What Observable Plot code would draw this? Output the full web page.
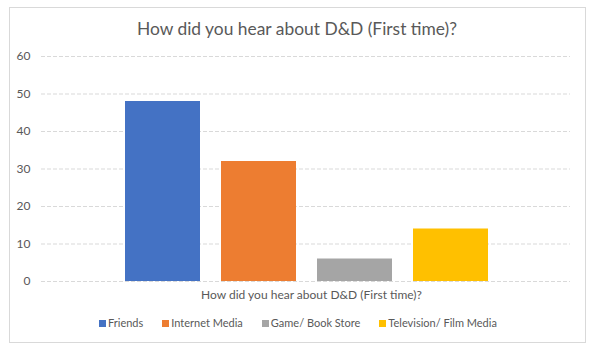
<!DOCTYPE html>
<html>
<head>
<meta charset="utf-8">
<script src="https://cdn.jsdelivr.net/npm/d3@7"></script>
<script src="https://cdn.jsdelivr.net/npm/@observablehq/plot@0.6"></script>
<style>
  html, body { margin: 0; padding: 0; background: #fff; }
  body { width: 608px; height: 356px; position: relative; overflow: hidden; font-family: Lato, "Noto Sans", sans-serif; color: #595959; }
  #frame { position: absolute; left: 9px; top: 7px; width: 575px; height: 334px; border: 1px solid #d9d9d9; }
  #title { position: absolute; left: 0; width: 594px; top: 18px; text-align: center; font-size: 17.4px; line-height: 22px; color: #595959; white-space: nowrap; }
  #chart { position: absolute; left: 0; top: 0; }
  #xlabel { position: absolute; left: 0; width: 623px; top: 288px; text-align: center; font-size: 12px; line-height: 14px; color: #595959; white-space: nowrap; }
  #legend { position: absolute; left: 99px; top: 316px; display: flex; align-items: center; font-size: 11px; line-height: 14px; color: #595959; white-space: nowrap; }
  .item { display: flex; align-items: center; margin-right: 19px; }
  .sw { width: 7px; height: 7px; margin-right: 2px; }
</style>
</head>
<body>
<div id="frame"></div>
<div id="title"></div>
<div id="chart"></div>
<div id="xlabel"></div>
<div id="legend"></div>
<script>
const titleText = "How did you hear about D&D (First time)?";
const xAxisLabel = "How did you hear about D&D (First time)?";
const categories = ["Friends", "Internet Media", "Game/ Book Store", "Television/ Film Media"];
const values = [48, 32, 6, 14];
const colors = ["#4472C4", "#ED7D31", "#A5A5A5", "#FFC000"];
const yTicks = [0, 10, 20, 30, 40, 50, 60];

const data = categories.map((c, i) => ({category: c, value: values[i]}));

document.getElementById("title").textContent = titleText;
document.getElementById("xlabel").textContent = xAxisLabel;

const chart = Plot.plot({
  width: 608,
  height: 290,
  marginTop: 56,
  marginBottom: 9,
  marginLeft: 41,
  marginRight: 38,
  style: {fontFamily: "Lato, 'Noto Sans', sans-serif", fontSize: "12px", background: "transparent", overflow: "visible"},
  x: {type: "band", domain: categories, range: [124, 488], paddingInner: 0.22, paddingOuter: 0, axis: null},
  y: {domain: [0, 60], axis: null},
  color: {domain: categories, range: colors},
  marks: [
    Plot.ruleY(yTicks, {stroke: "#d9d9d9", strokeDasharray: "4,2", strokeWidth: 1}),
    Plot.barY(data, {x: "category", y: "value", fill: "category"}),
    Plot.axisY({ticks: yTicks, tickSize: 0, tickPadding: 11, label: null, fill: "#595959", tickFormat: d => d})
  ]
});
document.getElementById("chart").appendChild(chart);

const legend = document.getElementById("legend");
categories.forEach((c, i) => {
  const item = document.createElement("div");
  item.className = "item";
  const sw = document.createElement("div");
  sw.className = "sw";
  sw.style.background = colors[i];
  const t = document.createElement("span");
  t.textContent = c;
  item.appendChild(sw);
  item.appendChild(t);
  legend.appendChild(item);
});
</script>
</body>
</html>
